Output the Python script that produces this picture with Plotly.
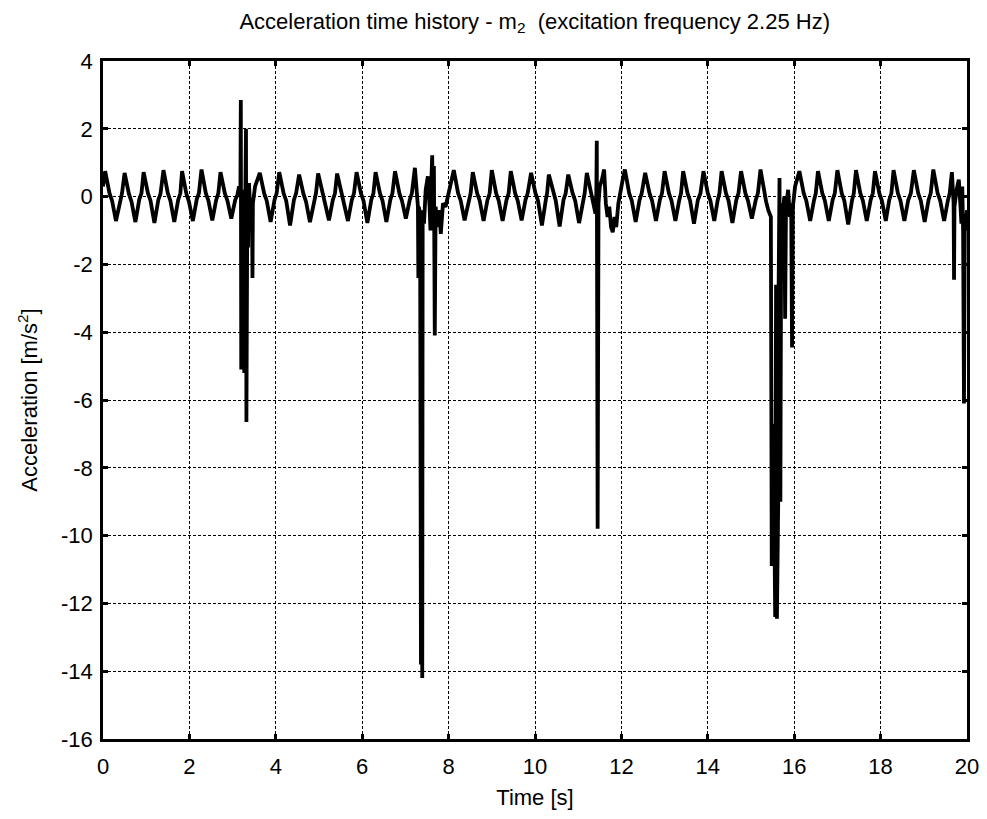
import plotly.graph_objects as go

# Time samples [s] (vertices)
time_s = [
    0.00,
    0.05, 0.15, 0.21, 0.30, 0.39, 0.44,
    0.50, 0.60, 0.66, 0.75, 0.84, 0.89,
    0.94, 1.04, 1.10, 1.19, 1.28, 1.33,
    1.40, 1.50, 1.56, 1.65, 1.74, 1.79,
    1.83, 1.93, 1.99, 2.08, 2.17, 2.22,
    2.28, 2.38, 2.44, 2.53, 2.62, 2.67,
    2.72, 2.82, 2.88, 2.97, 3.06, 3.11,
    3.15, 3.18, 3.19, 3.20, 3.22, 3.23, 3.25, 3.27, 3.29, 3.31, 3.32, 3.34, 3.36, 3.38, 3.42, 3.45, 3.46, 3.47, 3.52,
    3.63, 3.73, 3.79, 3.88, 3.97, 4.02,
    4.08, 4.18, 4.24, 4.33, 4.42, 4.47,
    4.54, 4.64, 4.70, 4.79, 4.88, 4.93,
    4.98, 5.08, 5.14, 5.23, 5.32, 5.37,
    5.42, 5.52, 5.58, 5.67, 5.76, 5.81,
    5.87, 5.97, 6.03, 6.12, 6.21, 6.26,
    6.31, 6.41, 6.47, 6.56, 6.65, 6.70,
    6.76, 6.86, 6.92, 7.01, 7.10, 7.15,
    7.22, 7.27, 7.29, 7.30, 7.31, 7.34, 7.36, 7.37, 7.39, 7.40, 7.43, 7.47, 7.52, 7.56, 7.58, 7.60,
    7.62, 7.64, 7.66, 7.68, 7.70, 7.74, 7.78, 7.82, 7.87, 7.93, 8.00, 8.05,
    8.12, 8.22, 8.28, 8.37, 8.46, 8.51,
    8.56, 8.66, 8.72, 8.81, 8.90, 8.95,
    9.00, 9.10, 9.16, 9.25, 9.34, 9.39,
    9.44, 9.54, 9.60, 9.69, 9.78, 9.83,
    9.91, 10.01, 10.07, 10.16, 10.25, 10.28,
    10.32, 10.42, 10.48, 10.57, 10.66, 10.71,
    10.77, 10.87, 10.93, 11.02, 11.11, 11.15,
    11.20, 11.30, 11.36, 11.40, 11.42,
    11.43, 11.45, 11.47, 11.50, 11.55, 11.60, 11.64, 11.68, 11.72, 11.76, 11.80, 11.84, 11.88, 11.93, 11.98, 12.03,
    12.08, 12.18, 12.24, 12.33, 12.42, 12.47,
    12.55, 12.65, 12.71, 12.80, 12.89, 12.94,
    13.00, 13.10, 13.16, 13.25, 13.34, 13.38,
    13.43, 13.53, 13.59, 13.68, 13.77, 13.83,
    13.90, 14.00, 14.06, 14.15, 14.23, 14.27,
    14.32, 14.42, 14.48, 14.57, 14.66, 14.71,
    14.77, 14.87, 14.93, 15.02, 15.11, 15.16,
    15.22, 15.30, 15.35, 15.40,
    15.46, 15.48, 15.52, 15.56, 15.58, 15.60, 15.63, 15.64, 15.66, 15.68, 15.70, 15.74, 15.77, 15.79, 15.81, 15.86, 15.90, 15.93, 15.95, 15.97, 16.02,
    16.12, 16.22, 16.28, 16.37, 16.46, 16.50,
    16.55, 16.65, 16.71, 16.80, 16.89, 16.94,
    17.00, 17.10, 17.16, 17.25, 17.34, 17.38,
    17.43, 17.53, 17.59, 17.68, 17.77, 17.82,
    17.87, 17.97, 18.03, 18.12, 18.20, 18.25,
    18.30, 18.40, 18.46, 18.55, 18.64, 18.70,
    18.77, 18.87, 18.93, 19.02, 19.11, 19.16,
    19.22, 19.32, 19.38, 19.47, 19.56, 19.60,
    19.65, 19.68, 19.69, 19.70, 19.71, 19.76, 19.81, 19.85, 19.87, 19.89, 19.91, 19.93, 19.95, 19.97, 20.00,
]

# Acceleration of m2 [m/s^2]
accel_m2 = [
    0.30,
    0.75, 0.10, -0.12, -0.72, -0.10, 0.10,
    0.70, 0.08, -0.15, -0.75, -0.08, 0.10,
    0.72, 0.10, -0.12, -0.78, -0.10, 0.08,
    0.78, 0.10, -0.12, -0.75, -0.10, 0.10,
    0.75, 0.08, -0.15, -0.72, -0.08, 0.10,
    0.80, 0.10, -0.12, -0.70, -0.10, 0.10,
    0.72, 0.10, -0.12, -0.65, -0.10, 0.05,
    0.30, 0.00, 2.85, -5.10, -0.30, -5.00, 0.20, -5.20, -0.50, 2.00, -6.65, -0.30, -1.50, 0.40, -0.80, -0.20, -2.40, -0.20, 0.30,
    0.70, 0.10, -0.12, -0.75, -0.10, 0.10,
    0.72, 0.10, -0.12, -0.85, -0.10, 0.10,
    0.65, 0.08, -0.15, -0.75, -0.10, 0.10,
    0.68, 0.10, -0.12, -0.70, -0.10, 0.10,
    0.68, 0.10, -0.12, -0.72, -0.10, 0.10,
    0.72, 0.10, -0.12, -0.78, -0.10, 0.10,
    0.72, 0.10, -0.12, -0.75, -0.10, 0.10,
    0.75, 0.10, -0.12, -0.65, -0.10, 0.10,
    0.85, 0.10, -0.30, -2.40, -0.30, -0.50, -13.80, -0.60, -14.20, -0.40, -0.80, 0.20, 0.60, -0.30, -1.00, 0.40,
    1.22, -0.50, 0.90, -4.10, -0.30, -0.90, -0.40, -1.10, -0.20, -0.30, 0.10, 0.30,
    0.78, 0.10, -0.12, -0.70, -0.10, 0.10,
    0.72, 0.10, -0.12, -0.72, -0.10, 0.10,
    0.78, 0.10, -0.12, -0.72, -0.10, 0.10,
    0.75, 0.10, -0.12, -0.70, -0.10, 0.10,
    0.70, 0.10, -0.12, -0.85, -0.10, 0.10,
    0.65, 0.10, -0.12, -0.88, -0.10, 0.10,
    0.65, 0.10, -0.12, -0.78, -0.10, 0.10,
    0.70, 0.10, -0.20, -0.50, 0.10,
    1.65, -9.80, -0.20, 0.30, 0.50, 0.80, -0.20, -0.60, -0.30, -0.90, -1.05, -0.60, -0.90, -0.20, 0.20, 0.50,
    0.80, 0.10, -0.12, -0.75, -0.10, 0.10,
    0.70, 0.10, -0.12, -0.72, -0.10, 0.10,
    0.75, 0.10, -0.12, -0.72, -0.10, 0.10,
    0.75, 0.10, -0.12, -0.80, -0.10, 0.10,
    0.75, 0.10, -0.12, -0.72, -0.10, 0.10,
    0.75, 0.10, -0.12, -0.78, -0.10, 0.10,
    0.75, 0.10, -0.12, -0.65, -0.10, 0.10,
    0.80, 0.10, -0.15, -0.40,
    -0.60, -10.90, -6.70, -12.40, -2.60, -12.45, -9.00, -2.60, 0.55, -9.00, -0.20, -0.50, 0.00, -3.60, -0.30, 0.20, -0.60, -0.20, -4.45, -0.30, 0.30,
    0.75, 0.10, -0.12, -0.72, -0.10, 0.10,
    0.75, 0.10, -0.12, -0.72, -0.10, 0.10,
    0.78, 0.10, -0.12, -0.82, -0.10, 0.10,
    0.78, 0.10, -0.12, -0.72, -0.10, 0.10,
    0.75, 0.10, -0.12, -0.72, -0.10, 0.10,
    0.78, 0.10, -0.12, -0.72, -0.10, 0.10,
    0.78, 0.10, -0.12, -0.75, -0.10, 0.10,
    0.80, 0.10, -0.12, -0.72, -0.10, 0.10,
    0.72, 0.20, -0.20, -2.45, -0.30, 0.20, 0.50, -0.30, -0.80, 0.30, -1.00, -6.10, -0.50, -1.00, -0.40,
]

x_ticks = [0, 2, 4, 6, 8, 10, 12, 14, 16, 18, 20]
y_ticks = [4, 2, 0, -2, -4, -6, -8, -10, -12, -14, -16]

font_family = "Liberation Sans, Arial, sans-serif"
fs = 22

fig = go.Figure()
fig.add_trace(go.Scatter(
    x=time_s, y=accel_m2, mode="lines",
    line=dict(color="black", width=3.8),
    showlegend=False,
))

axis_common = dict(
    showline=True, linecolor="black", linewidth=2.5, mirror="ticks",
    ticks="inside", ticklen=5, tickwidth=2.5, tickcolor="black",
    showgrid=True, gridcolor="black", gridwidth=1, griddash="3px,2px",
    zeroline=False,
    tickfont=dict(family=font_family, size=fs, color="black"),
)

fig.update_layout(
    width=979, height=811,
    margin=dict(l=95, r=20, t=53, b=80, autoexpand=False),
    paper_bgcolor="white", plot_bgcolor="white",
    font=dict(family=font_family, size=fs, color="black"),
    title=dict(
        text="Acceleration time history - m<sub>2</sub>  (excitation frequency 2.25 Hz)",
        x=0.538, xanchor="center", xref="container",
        y=0.984, yanchor="middle", yref="container",
        font=dict(family=font_family, size=fs, color="black"),
    ),
    xaxis=dict(
        range=[0, 20], tickvals=x_ticks,
        ticklabelstandoff=6,
        title=dict(text="Time [s]", font=dict(family=font_family, size=fs), standoff=12),
        automargin=False,
        **axis_common,
    ),
    yaxis=dict(
        range=[-16, 4], tickvals=y_ticks,
        ticktext=[str(v) for v in y_ticks],
        ticklabelstandoff=3,
        title=dict(text="Acceleration [m/s<sup>2</sup>]", font=dict(family=font_family, size=fs), standoff=18),
        automargin=False,
        **axis_common,
    ),
)

fig.write_html("out.html")
